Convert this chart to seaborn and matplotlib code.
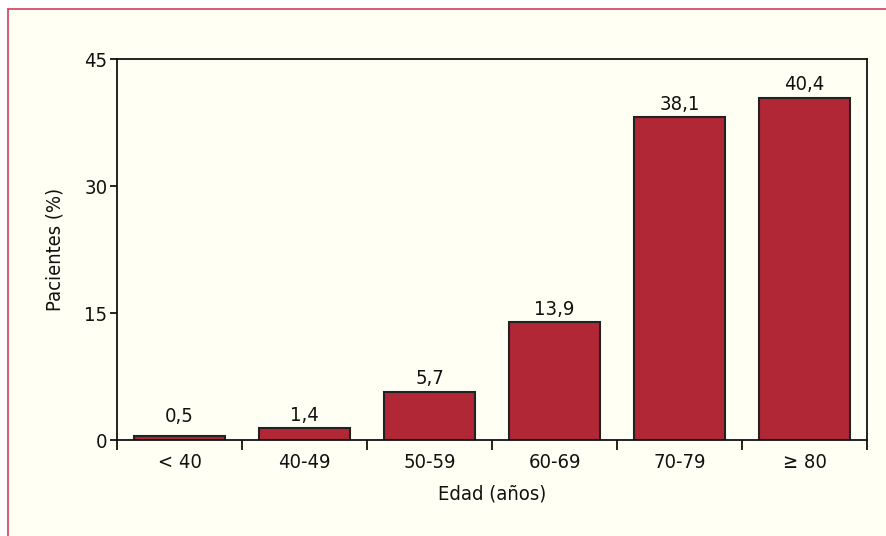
import matplotlib
matplotlib.use("Agg")
import matplotlib.pyplot as plt
import seaborn as sns
import pandas as pd
from matplotlib.patches import Rectangle
from matplotlib.lines import Line2D

categories = ["< 40", "40-49", "50-59", "60-69", "70-79", "≥ 80"]
values = [0.5, 1.4, 5.7, 13.9, 38.1, 40.4]
value_labels = ["0,5", "1,4", "5,7", "13,9", "38,1", "40,4"]
yticks = [0, 15, 30, 45]

sns.set_style("white")
plt.rcParams['font.family'] = ['Liberation Sans Narrow', 'DejaVu Sans']
plt.rcParams['font.stretch'] = 'condensed'
plt.rcParams['text.color'] = '#111111'
plt.rcParams['xtick.color'] = '#111111'
plt.rcParams['ytick.color'] = '#111111'
plt.rcParams['axes.labelcolor'] = '#111111'

FS = 14.5
bg = "#FFFFF3"
fig = plt.figure(figsize=(8.86, 5.36), dpi=100, facecolor="white")
W, H = 886, 536
# cream panel with red left/top border
fig.patches.append(Rectangle((8 / W, 0), 1 - 8 / W, 1 - 9 / H, transform=fig.transFigure,
                             facecolor=bg, edgecolor="none", zorder=-10))
fig.lines.append(Line2D([8 / W, 8 / W], [0, 1 - 9 / H], transform=fig.transFigure,
                        color="#D0405A", lw=1.2, zorder=-5))
fig.lines.append(Line2D([8 / W, 1], [1 - 9 / H, 1 - 9 / H], transform=fig.transFigure,
                        color="#D0405A", lw=1.2, zorder=-5))

ax = fig.add_axes([117 / W, 1 - 440 / H, (867 - 117) / W, (440 - 59) / H])
ax.set_facecolor(bg)

df = pd.DataFrame({"cat": categories, "val": values})
sns.barplot(data=df, x="cat", y="val", order=categories, color="#B12735",
            width=0.73, edgecolor="#222222", linewidth=1.5, saturation=1, ax=ax)

for i, (v, lab) in enumerate(zip(values, value_labels)):
    ax.annotate(lab, (i, max(v, 1.3)), xytext=(0, 2.5), textcoords="offset points",
                ha="center", va="bottom", fontsize=FS, color="#111111")

ax.set_xlim(-0.5, len(categories) - 0.5)
ax.set_ylim(0, 45)
ax.set_yticks(yticks)
ax.set_yticklabels([str(t) for t in yticks], fontsize=FS)
ax.set_xticks([i - 0.5 for i in range(len(categories) + 1)], minor=False)
ax.set_xticklabels([])
ax.set_xticks(range(len(categories)), minor=True)
ax.set_xticklabels(categories, minor=True, fontsize=FS)
ax.tick_params(axis="x", which="major", bottom=True, direction="out", length=7, width=1.3)
ax.tick_params(axis="x", which="minor", bottom=True, length=0, pad=9)
ax.tick_params(axis="y", left=True, direction="out", length=5, width=1.3, pad=2)
for s in ax.spines.values():
    s.set_visible(True)
    s.set_color("#111111")
    s.set_linewidth(1.3)

ax.set_xlabel("Edad (años)", fontsize=FS, labelpad=9)
ax.set_ylabel("Pacientes (%)", fontsize=FS, labelpad=14)

fig.savefig("out.png", dpi=100, facecolor="white")
